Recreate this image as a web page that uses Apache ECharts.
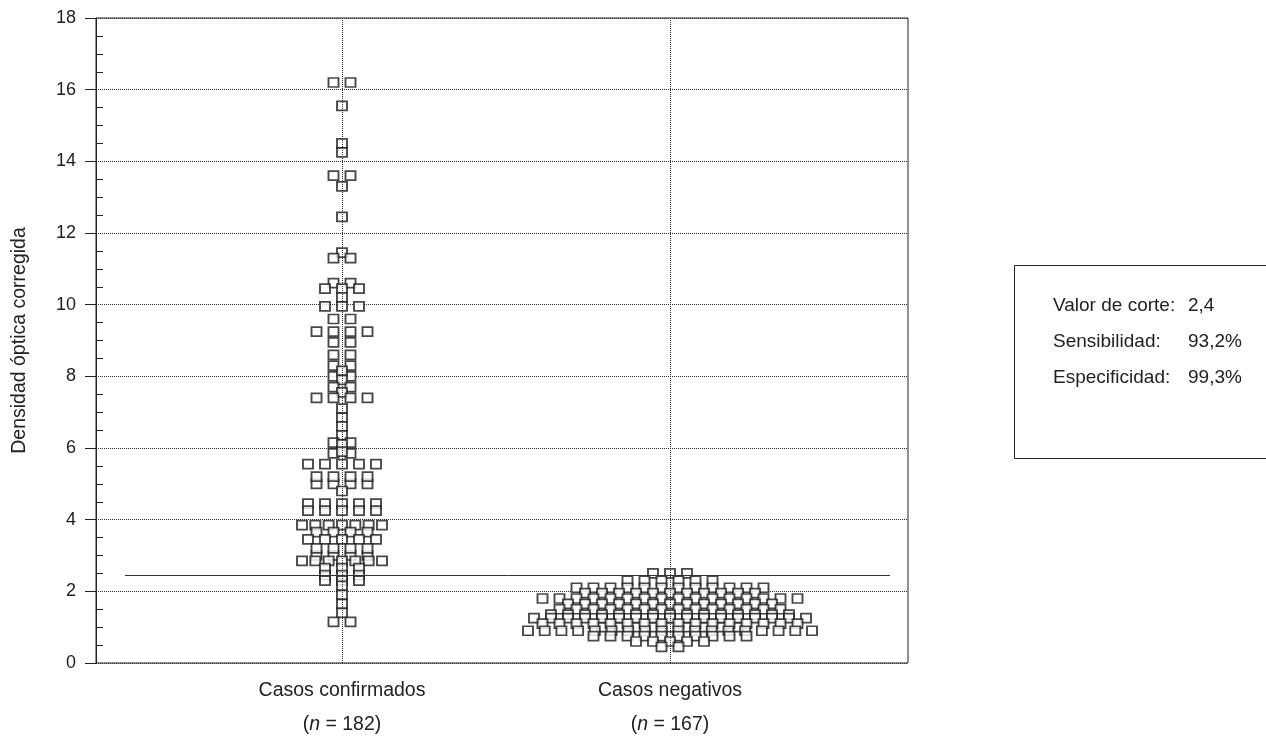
<!DOCTYPE html>
<html>
<head>
<meta charset="utf-8">
<script src="https://cdn.jsdelivr.net/npm/echarts@6/dist/echarts.min.js"></script>
<style>
html, body { margin: 0; padding: 0; background: #fff; }
#container { width: 1266px; height: 736px; }
</style>
</head>
<body>
<div id="container"></div>
<script>
// groups on the x axis
const categories = ['Casos confirmados', 'Casos negativos'];
const sampleSizes = [182, 167];

// corrected optical density (equal values share a row)
const confirmados = [
    16.2, 16.2,
    15.55,
    14.5, 14.25,
    13.6, 13.6, 13.3,
    12.45,
    11.45, 11.3, 11.3,
    10.6, 10.6, 10.45, 10.45, 10.45,
    10.2,
    9.95, 9.95, 9.95,
    9.6, 9.6,
    9.25, 9.25, 9.25, 9.25,
    8.95, 8.95,
    8.6, 8.6,
    8.3, 8.3, 8.15,
    8.0, 8.0, 7.9,
    7.7, 7.7,
    7.55,
    7.4, 7.4, 7.4, 7.4,
    7.1, 6.85, 6.6, 6.35,
    6.15, 6.15, 6.1,
    5.85, 5.85, 5.9,
    5.55, 5.55, 5.55, 5.55, 5.55,
    5.2, 5.2, 5.2, 5.2,
    5.0, 5.0, 5.0, 5.0,
    4.8,
    4.45, 4.45, 4.45, 4.45, 4.45,
    4.25, 4.25, 4.25, 4.25, 4.25,
    3.85, 3.85, 3.85, 3.85, 3.85, 3.85, 3.85,
    3.65, 3.65, 3.65, 3.65,
    3.45, 3.45, 3.45, 3.45, 3.45,
    3.2, 3.2, 3.2, 3.2,
    3.0, 3.0, 3.0, 3.0,
    2.85, 2.85, 2.85, 2.85, 2.85, 2.85, 2.85,
    2.65, 2.65, 2.65,
    2.45, 2.45, 2.45,
    2.3, 2.3, 2.3,
    2.15, 1.9, 1.65, 1.4,
    1.15, 1.15
];

const negativos = [
    2.5, 2.5, 2.5,
    2.3, 2.3, 2.3, 2.3, 2.3, 2.3,
    2.1, 2.1, 2.1, 2.1, 2.1, 2.1, 2.1, 2.1, 2.1, 2.1, 2.1, 2.1,
    1.95, 1.95, 1.95, 1.95, 1.95, 1.95, 1.95, 1.95, 1.95, 1.95, 1.95,
    1.8, 1.8, 1.8, 1.8, 1.8, 1.8, 1.8, 1.8, 1.8, 1.8, 1.8, 1.8, 1.8, 1.8, 1.8, 1.8,
    1.65, 1.65, 1.65, 1.65, 1.65, 1.65, 1.65, 1.65, 1.65, 1.65, 1.65, 1.65, 1.65,
    1.5, 1.5, 1.5, 1.5, 1.5, 1.5, 1.5, 1.5, 1.5, 1.5, 1.5, 1.5, 1.5, 1.5,
    1.35, 1.35, 1.35, 1.35, 1.35, 1.35, 1.35, 1.35, 1.35, 1.35, 1.35, 1.35, 1.35, 1.35, 1.35,
    1.25, 1.25, 1.25, 1.25, 1.25, 1.25, 1.25, 1.25, 1.25, 1.25, 1.25, 1.25, 1.25, 1.25, 1.25, 1.25, 1.25,
    1.1, 1.1, 1.1, 1.1, 1.1, 1.1, 1.1, 1.1, 1.1, 1.1, 1.1, 1.1, 1.1, 1.1, 1.1, 1.1,
    1.0, 1.0, 1.0, 1.0, 1.0, 1.0, 1.0, 1.0, 1.0,
    0.9, 0.9, 0.9, 0.9, 0.9, 0.9, 0.9, 0.9, 0.9, 0.9, 0.9, 0.9, 0.9, 0.9, 0.9, 0.9, 0.9, 0.9,
    0.75, 0.75, 0.75, 0.75, 0.75, 0.75, 0.75, 0.75, 0.75, 0.75,
    0.6, 0.6, 0.6, 0.6, 0.6,
    0.45, 0.45
];

const yTicks = [0, 2, 4, 6, 8, 10, 12, 14, 16, 18];
const cutoff = 2.45;
const infoLabels = ['Valor de corte:', 'Sensibilidad:', 'Especificidad:'];
const infoValues = ['2,4', '93,2%', '99,3%'];

// layout
const FONT = '"Liberation Sans", Arial, Helvetica, sans-serif';
const gridLeft = 96, gridTop = 18, gridW = 812, gridH = 645;
const xMin = -0.75, xMax = 1.7256;
const pxPerUnit = gridW / (xMax - xMin);

// equal values are laid out side by side, centred on the group
function swarm(values, center, span) {
    let rows = {};
    values.forEach(function (v) {
        (rows[v] = rows[v] || []).push(v);
    });
    let pts = [];
    Object.keys(rows).forEach(function (k) {
        let row = rows[k];
        let n = row.length;
        let step = n > 1 ? Math.min(17, span / (n - 1)) : 0;
        row.forEach(function (v, i) {
            let dx = (i - (n - 1) / 2) * step;
            pts.push([center + dx / pxPerUnit, v]);
        });
    });
    return pts;
}

let dom = document.getElementById('container');
let myChart = echarts.init(dom);

let squareStyle = {
    color: '#fff',
    borderColor: '#1a1a1a',
    borderWidth: 1.8
};

let option = {
    animation: false,
    grid: {
        left: gridLeft,
        top: gridTop,
        width: gridW,
        height: gridH,
        outerBoundsMode: 'none',
        containLabel: false,
        show: true,
        borderColor: '#222',
        borderWidth: 1
    },
    xAxis: {
        type: 'value',
        min: xMin,
        max: xMax,
        axisLine: { show: false, onZero: false },
        axisTick: { show: false },
        splitLine: { show: false },
        axisLabel: {
            customValues: [0, 1],
            margin: 11,
            formatter: function (val) {
                let i = Math.round(val);
                return '{a|' + categories[i] + '}\n{b|(}{i|n}{b| = ' + sampleSizes[i] + ')}';
            },
            rich: {
                a: { fontSize: 19.5, lineHeight: 34, fontFamily: FONT, color: '#222' },
                b: { fontSize: 19.5, lineHeight: 34, fontFamily: FONT, color: '#222' },
                i: { fontSize: 19.5, lineHeight: 34, fontFamily: FONT, color: '#222', fontStyle: 'italic' }
            }
        }
    },
    yAxis: [
        {
            type: 'value',
            min: 0,
            max: 18,
            interval: 2,
            name: 'Densidad óptica corregida',
            nameLocation: 'middle',
            nameGap: 66,
            nameTextStyle: { fontSize: 19.5, fontFamily: FONT, color: '#222' },
            axisLine: { show: true, onZero: false, lineStyle: { color: '#222', width: 1 } },
            axisTick: { show: true, length: 11, lineStyle: { color: '#222' } },
            axisLabel: {
                margin: 20,
                fontSize: 18,
                fontFamily: FONT,
                color: '#222',
                customValues: yTicks
            },
            splitLine: {
                show: true,
                lineStyle: { type: 'dotted', color: '#333', width: 1 }
            }
        },
        {
            type: 'value',
            min: 0,
            max: 18,
            interval: 2,
            position: 'left',
            axisLine: { show: false, onZero: false },
            axisTick: { show: false, inside: true },
            minorTick: { show: true, splitNumber: 4, length: 7, lineStyle: { color: '#222', width: 1 } },
            axisLabel: { show: false },
            splitLine: { show: false }
        }
    ],
    series: [
        {
            // reference lines: group centres and cut-off
            type: 'line',
            data: [],
            z: 1,
            silent: true,
            markLine: {
                silent: true,
                symbol: 'none',
                label: { show: false },
                animation: false,
                data: [
                    { xAxis: 0, lineStyle: { type: 'dotted', color: '#333', width: 1 } },
                    { xAxis: 1, lineStyle: { type: 'dotted', color: '#333', width: 1 } },
                    [
                        { coord: [xMin + 29 / pxPerUnit, cutoff], lineStyle: { type: 'solid', color: '#333', width: 1 } },
                        { coord: [xMax - 18 / pxPerUnit, cutoff] }
                    ]
                ]
            }
        },
        {
            name: categories[0],
            type: 'scatter',
            z: 3,
            symbol: 'rect',
            symbolSize: [10, 9],
            itemStyle: squareStyle,
            data: swarm(confirmados, 0, 80)
        },
        {
            name: categories[1],
            type: 'scatter',
            z: 3,
            symbol: 'rect',
            symbolSize: [10, 9],
            itemStyle: squareStyle,
            data: swarm(negativos, 1, 284)
        }
    ],
    graphic: [
        {
            type: 'rect',
            left: 1012,
            top: 263,
            shape: { width: 300, height: 193 },
            style: { fill: 'none', stroke: '#222', lineWidth: 1 }
        }
    ].concat(infoLabels.map(function (t, i) {
        return {
            type: 'text',
            x: 1053,
            y: 306 + i * 36,
            style: { text: t, font: '19px ' + FONT, fill: '#222', verticalAlign: 'middle' }
        };
    })).concat(infoValues.map(function (t, i) {
        return {
            type: 'text',
            x: 1188,
            y: 306 + i * 36,
            style: { text: t, font: '19px ' + FONT, fill: '#222', verticalAlign: 'middle' }
        };
    }))
};
myChart.setOption(option);
</script>
</body>
</html>
